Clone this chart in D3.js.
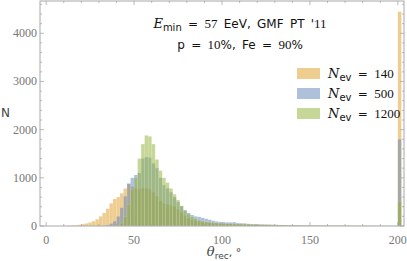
<!DOCTYPE html>
<html>
<head>
<meta charset="utf-8">
<script src="https://cdn.jsdelivr.net/npm/d3@7"></script>
<style>
  html, body { margin: 0; padding: 0; background: #fff; }
  svg { display: block; }
</style>
</head>
<body>
<svg id="chart" width="407" height="261"></svg>
<script>
// histogram bins: 2 degrees wide, starting at 10 deg; last entry is the overflow bar at 200
var binStart = 10,
    binWidth = 2;

var seriesNames = ["140", "500", "1200"];

var countsN140 = [
    0, 5, 10, 15, 25, 40, 55, 75, 100, 140,
    200, 270, 360, 470, 560, 600, 680, 780, 880, 820,
    780, 770, 790, 780, 760, 700, 620, 520, 470, 450,
    430, 400, 340, 280, 210, 160, 130, 110, 95, 85,
    75, 70, 65, 60, 55, 55, 50, 45, 45, 45,
    50, 50, 40, 35, 35, 30, 30, 30, 28, 25,
    25, 22, 20, 20, 18, 18, 16, 15, 14, 12,
    12, 10, 10, 9, 8, 8, 7, 6, 6, 5,
    5, 5, 4, 4, 3, 3, 3, 3, 2, 2,
    2, 2, 2, 1, 1
];
var countsN500 = [
    0, 0, 0, 0, 0, 0, 0, 0, 0, 0,
    0, 5, 20, 50, 100, 200, 380, 620, 880, 1000,
    1060, 1100, 1400, 1430, 1420, 1300, 1200, 1000, 850, 780,
    700, 600, 500, 410, 330, 270, 230, 200, 190, 170,
    150, 130, 110, 95, 85, 80, 75, 75, 80, 60,
    55, 50, 45, 40, 40, 35, 32, 30, 28, 25,
    22, 20, 20, 18, 16, 15, 14, 12, 12, 10,
    10, 9, 8, 8, 7, 6, 6, 5, 5, 5,
    4, 4, 4, 3, 3, 3, 3, 2, 2, 2,
    2, 2, 1, 1, 1
];
var countsN1200 = [
    0, 0, 0, 0, 0, 0, 0, 0, 0, 0,
    0, 0, 0, 0, 0, 10, 60, 200, 450, 750,
    1000, 1400, 1700, 1880, 1860, 1700, 1380, 1150, 1000, 900,
    780, 660, 540, 420, 320, 250, 190, 150, 120, 100,
    85, 75, 65, 60, 55, 50, 45, 45, 40, 40,
    35, 35, 30, 30, 28, 25, 25, 22, 20, 20,
    18, 16, 15, 14, 12, 12, 10, 10, 9, 8,
    8, 7, 6, 6, 5, 5, 5, 4, 4, 4,
    3, 3, 3, 3, 2, 2, 2, 2, 2, 2,
    1, 1, 1, 1, 1
];
// everything above 200 deg lumped into one bar
var overflowCounts = [4450, 1800, 500];

var xTicks = [0, 50, 100, 150, 200],
    yTicks = [0, 1000, 2000, 3000, 4000];

(function () {
    var colors = ["#e09c24", "#5e81b5", "#8fb032"];

    var svg = d3.select("#chart"),
        left = 40, right = 404, plotTop = 1, bottom = 226;

    var x = d3.scaleLinear().domain([-3.5, 203.5]).range([left, right]),
        y = d3.scaleLinear().domain([0, 4670]).range([bottom, plotTop]);

    var allCounts = [countsN140, countsN500, countsN1200];

    // bars, drawn in legend order so the later ones sit on top
    allCounts.forEach(function (counts, s) {
        var bins = counts.map(function (c, i) {
            return {x0: binStart + i * binWidth, x1: binStart + (i + 1) * binWidth, n: c};
        });
        bins.push({x0: 200, x1: 202, n: overflowCounts[s]});

        svg.append("g")
            .selectAll("rect")
            .data(bins.filter(function (d) { return d.n > 0; }))
            .enter().append("rect")
            .attr("x", function (d) { return x(d.x0); })
            .attr("width", function (d) { return x(d.x1) - x(d.x0); })
            .attr("y", function (d) { return y(d.n); })
            .attr("height", function (d) { return y(0) - y(d.n); })
            .attr("fill", colors[s])
            .attr("fill-opacity", 0.5)
            .attr("stroke", "#fff")
            .attr("stroke-opacity", 0.2)
            .attr("stroke-width", 0.5);
    });

    // frame
    var frameColor = "#a8a8a8";
    svg.append("rect")
        .attr("x", left).attr("y", plotTop)
        .attr("width", right - left).attr("height", bottom - plotTop)
        .attr("fill", "none").attr("stroke", frameColor).attr("stroke-width", 1);

    var ticks = svg.append("g").attr("stroke", frameColor).attr("stroke-width", 0.8);

    // x ticks, bottom and top
    d3.range(0, 201, 10).forEach(function (v) {
        var len = v % 50 === 0 ? 4 : 2;
        ticks.append("line").attr("x1", x(v)).attr("x2", x(v)).attr("y1", bottom).attr("y2", bottom - len);
        ticks.append("line").attr("x1", x(v)).attr("x2", x(v)).attr("y1", plotTop).attr("y2", plotTop + len);
    });
    // y ticks, left and right
    d3.range(0, 4601, 200).forEach(function (v) {
        var len = v % 1000 === 0 ? 4 : 2;
        ticks.append("line").attr("y1", y(v)).attr("y2", y(v)).attr("x1", left).attr("x2", left + len);
        ticks.append("line").attr("y1", y(v)).attr("y2", y(v)).attr("x1", right).attr("x2", right - len);
    });

    var numFont = "Liberation Serif, serif",
        txtFont = "DejaVu Sans, sans-serif",
        labColor = "#777";

    svg.append("g").selectAll("text")
        .data(xTicks).enter().append("text")
        .attr("x", function (d) { return x(d); })
        .attr("y", 244)
        .attr("text-anchor", "middle")
        .attr("font-family", numFont).attr("font-size", 12)
        .attr("fill", labColor)
        .text(function (d) { return d; });

    svg.append("g").selectAll("text")
        .data(yTicks).enter().append("text")
        .attr("x", left - 3)
        .attr("y", function (d) { return y(d) + 4; })
        .attr("text-anchor", "end")
        .attr("font-family", numFont).attr("font-size", 12)
        .attr("fill", labColor)
        .text(function (d) { return d; });

    // axis labels
    svg.append("text")
        .attr("x", 1).attr("y", 117)
        .attr("font-family", txtFont).attr("font-size", 12)
        .attr("fill", "#444")
        .text("N");

    var xl = svg.append("text")
        .attr("x", 224).attr("y", 256)
        .attr("text-anchor", "middle")
        .attr("fill", "#444");
    xl.append("tspan").attr("font-family", "DejaVu Serif, serif").attr("font-style", "italic").attr("font-size", 13).text("θ");
    xl.append("tspan").attr("font-family", txtFont).attr("font-size", 9).attr("dy", 3).text("rec");
    xl.append("tspan").attr("font-family", txtFont).attr("font-size", 11).attr("dy", -3).text(", °");

    // header text
    var head = svg.append("g").attr("fill", "#111").attr("word-spacing", 2.5);
    var t1 = head.append("text").attr("x", 240).attr("y", 28).attr("text-anchor", "middle");
    t1.append("tspan").attr("font-family", "DejaVu Serif, serif").attr("font-style", "italic").attr("font-size", 13).text("E");
    t1.append("tspan").attr("font-family", txtFont).attr("font-size", 10).attr("dy", 3).text("min");
    t1.append("tspan").attr("font-family", txtFont).attr("font-size", 12).attr("dy", -3).text(" = ");
    t1.append("tspan").attr("font-family", numFont).attr("font-size", 13).text("57");
    t1.append("tspan").attr("font-family", txtFont).attr("font-size", 12).text(" EeV, GMF PT '");
    t1.append("tspan").attr("font-family", numFont).attr("font-size", 13).text("11");

    var t2 = head.append("text").attr("x", 240).attr("y", 49).attr("text-anchor", "middle");
    t2.append("tspan").attr("font-family", txtFont).attr("font-size", 12).text("p = ");
    t2.append("tspan").attr("font-family", numFont).attr("font-size", 13).text("10");
    t2.append("tspan").attr("font-family", txtFont).attr("font-size", 12).text("%, Fe = ");
    t2.append("tspan").attr("font-family", numFont).attr("font-size", 13).text("90");
    t2.append("tspan").attr("font-family", txtFont).attr("font-size", 12).text("%");

    // legend
    var legend = svg.append("g").attr("word-spacing", 2.5);
    seriesNames.forEach(function (name, i) {
        var ly = 68 + i * 20;
        legend.append("rect")
            .attr("x", 297).attr("y", ly)
            .attr("width", 23).attr("height", 11)
            .attr("fill", colors[i]).attr("fill-opacity", 0.5);
        var lt = legend.append("text").attr("x", 328).attr("y", ly + 10).attr("fill", "#111");
        lt.append("tspan").attr("font-family", "DejaVu Serif, serif").attr("font-style", "italic").attr("font-size", 13).text("N");
        lt.append("tspan").attr("font-family", txtFont).attr("font-size", 10).attr("dy", 3).text("ev");
        lt.append("tspan").attr("font-family", txtFont).attr("font-size", 12).attr("dy", -3).text(" = ");
        lt.append("tspan").attr("font-family", numFont).attr("font-size", 13).text(name);
    });
})();
</script>
</body>
</html>
